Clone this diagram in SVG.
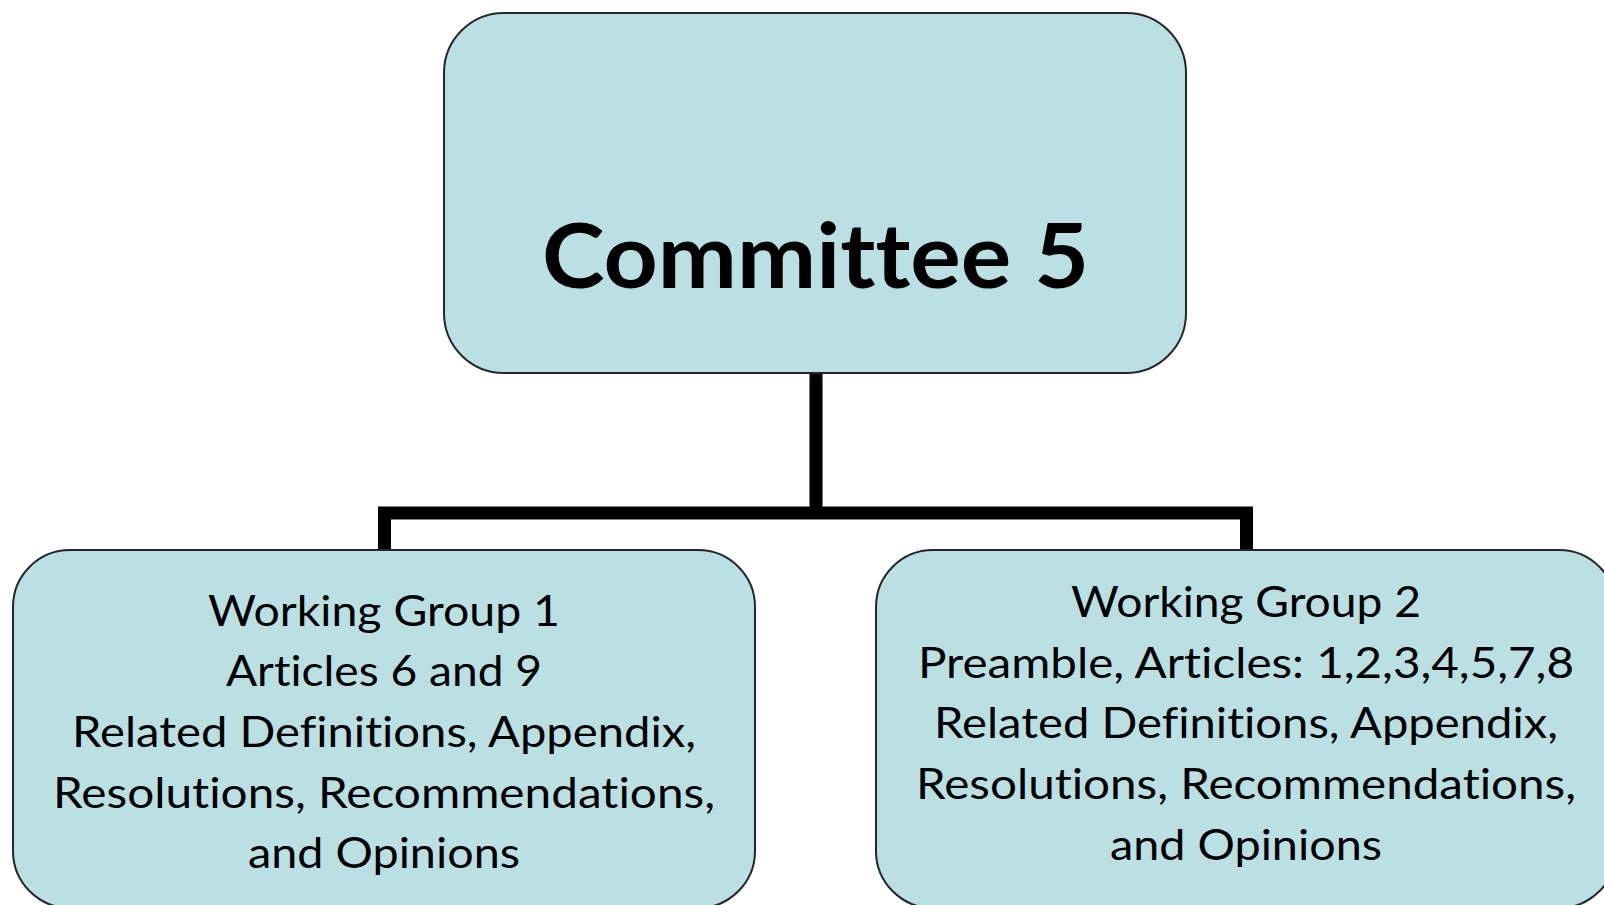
<svg xmlns="http://www.w3.org/2000/svg" width="1604" height="905" viewBox="0 0 1604 905">
  <style>
    .box { fill: #BBE0E3; stroke: #262626; stroke-width: 2; }
    .title { font-family: Lato, "Open Sans", "Liberation Sans", sans-serif; font-weight: bold; font-size: 89px; fill: #000; font-variant-ligatures: none; font-feature-settings: "liga" 0, "clig" 0; }
    .body { font-family: Lato, "Open Sans", "Liberation Sans", sans-serif; font-size: 43px; fill: #000; font-variant-ligatures: none; font-feature-settings: "liga" 0, "clig" 0; }
    .link { fill: none; stroke: #000; stroke-width: 13; stroke-linejoin: miter; stroke-linecap: butt; }
  </style>
  <rect width="1604" height="905" fill="#FFFFFF"/>

  <!-- connectors: trunk from the committee down to the bar, bar feeding both groups -->
  <g id="connectors">
    <path class="link" d="M816,373 V513"/>
    <path class="link" d="M384.5,551 V513 H1246.5 V551"/>
  </g>

  <g id="committee-5">
    <rect class="box" x="444" y="13" width="742" height="360" rx="60" ry="60"/>
    <text class="title" x="542" y="288" textLength="547" lengthAdjust="spacingAndGlyphs">Committee 5</text>
  </g>

  <!-- lines are left-anchored at centre minus half their set length -->
  <g id="working-group-1">
    <rect class="box" x="13" y="550" width="742" height="358" rx="57" ry="57"/>
    <text class="body">
      <tspan x="208" y="626" textLength="352" lengthAdjust="spacingAndGlyphs">Working Group 1</tspan>
      <tspan x="226" y="686" textLength="316" lengthAdjust="spacingAndGlyphs">Articles 6 and 9</tspan>
      <tspan x="72" y="747" textLength="624" lengthAdjust="spacingAndGlyphs">Related Definitions, Appendix,</tspan>
      <tspan x="53" y="808" textLength="662" lengthAdjust="spacingAndGlyphs">Resolutions, Recommendations,</tspan>
      <tspan x="248" y="868" textLength="272" lengthAdjust="spacingAndGlyphs">and Opinions</tspan>
    </text>
  </g>

  <g id="working-group-2">
    <rect class="box" x="876" y="550" width="740" height="358" rx="57" ry="57"/>
    <text class="body">
      <tspan x="1071" y="617" textLength="350" lengthAdjust="spacingAndGlyphs">Working Group 2</tspan>
      <tspan x="918" y="678" textLength="656" lengthAdjust="spacingAndGlyphs">Preamble, Articles: 1,2,3,4,5,7,8</tspan>
      <tspan x="934" y="738" textLength="624" lengthAdjust="spacingAndGlyphs">Related Definitions, Appendix,</tspan>
      <tspan x="916" y="799" textLength="660" lengthAdjust="spacingAndGlyphs">Resolutions, Recommendations,</tspan>
      <tspan x="1110" y="860" textLength="272" lengthAdjust="spacingAndGlyphs">and Opinions</tspan>
    </text>
  </g>
</svg>
